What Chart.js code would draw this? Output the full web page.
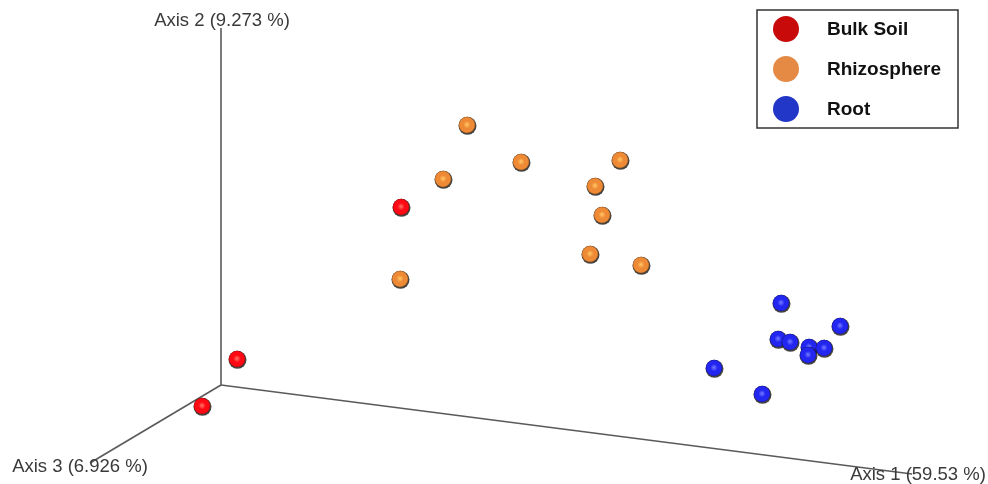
<!DOCTYPE html>
<html>
<head>
<meta charset="utf-8">
<script src="https://cdn.jsdelivr.net/npm/chart.js@4/dist/chart.umd.min.js"></script>
<style>
  html, body { margin: 0; padding: 0; background: #fff; }
  #wrap { width: 988px; height: 484px; position: relative; }
</style>
</head>
<body>
<div id="wrap"><canvas id="chart"></canvas></div>
<script>
// Projected positions of the samples (screen-space)
const bulkSoil = [
  { x: 401, y: 207 }, { x: 237, y: 359 }, { x: 202, y: 406 },
];
const rhizosphere = [
  { x: 467, y: 125 }, { x: 521, y: 162 }, { x: 620, y: 160 },
  { x: 443, y: 179 }, { x: 595, y: 186 }, { x: 602, y: 215 },
  { x: 590, y: 254 }, { x: 641, y: 265 }, { x: 400, y: 279 },
];
const root = [
  { x: 781, y: 303 }, { x: 840, y: 326 }, { x: 778, y: 339 },
  { x: 790, y: 342 }, { x: 809, y: 347 }, { x: 824, y: 348 },
  { x: 808, y: 355 }, { x: 714, y: 368 }, { x: 762, y: 394 },
];

// Axis lines: origin and the ends of the three axes
const axisOrigin = { x: 221, y: 385 };
const axisEnds = [
  { x: 912, y: 474 },
  { x: 221, y: 28 },
  { x: 90, y: 463 },
];
const axisLabels = ['Axis 1 (59.53 %)', 'Axis 2 (9.273 %)', 'Axis 3 (6.926 %)'];

const groupNames = ['Bulk Soil', 'Rhizosphere', 'Root'];
const groupColors = ['#ff0a14', '#ee8a35', '#2326f0'];
const highlightColors = ['#ff6a60', '#ffc060', '#6a70ff'];
const legendColors = ['#c80a0a', '#e58a45', '#2236c8'];

// Небольшая «сфера» для точек
function makeSphere(color, light) {
  const r = 8.3;
  const size = 22;
  const c = document.createElement('canvas');
  c.width = size;
  c.height = size;
  const g = c.getContext('2d');
  const cx = size / 2, cy = size / 2;
  // тёмный обод / тень
  g.beginPath();
  g.arc(cx + 0.5, cy + 0.8, r + 0.7, 0, Math.PI * 2);
  g.fillStyle = 'rgba(25,20,15,0.8)';
  g.fill();
  const grad = g.createRadialGradient(cx, cy - 0.5, 0.5, cx, cy, r);
  grad.addColorStop(0, light);
  grad.addColorStop(0.4, color);
  grad.addColorStop(0.85, color);
  grad.addColorStop(1, shade(color, 0.6));
  g.beginPath();
  g.arc(cx, cy, r, 0, Math.PI * 2);
  g.fillStyle = grad;
  g.fill();
  return c;
}

function shade(hex, k) {
  const n = parseInt(hex.slice(1), 16);
  const r = Math.round(((n >> 16) & 255) * k);
  const gg = Math.round(((n >> 8) & 255) * k);
  const b = Math.round((n & 255) * k);
  return `rgb(${r},${gg},${b})`;
}

// Axis labels drawn at the ends of the axis lines
const axisLabelPlugin = {
  id: 'axisLabels',
  afterDatasetsDraw(chart) {
    const { ctx, scales } = chart;
    const offsets = [6, -2, 9];
    ctx.save();
    ctx.font = '18.5px "Liberation Sans", Arial, sans-serif';
    ctx.fillStyle = '#3a3a3a';
    ctx.textAlign = 'center';
    ctx.textBaseline = 'alphabetic';
    axisEnds.forEach((p, i) => {
      const px = scales.x.getPixelForValue(p.x);
      const py = scales.y.getPixelForValue(p.y);
      const dx = i === 2 ? -10 : (i === 0 ? 6 : 1);
      ctx.fillText(axisLabels[i], px + dx, py + offsets[i]);
    });
    ctx.restore();
  },
};

// Legend box in the top right corner
const legendBoxPlugin = {
  id: 'legendBox',
  afterDraw(chart) {
    const { ctx } = chart;
    const left = 757, top = 10, w = 201, h = 118;
    ctx.save();
    ctx.fillStyle = '#fff';
    ctx.fillRect(left, top, w, h);
    ctx.strokeStyle = '#333';
    ctx.lineWidth = 1.5;
    ctx.strokeRect(left, top, w, h);
    ctx.font = 'bold 19px "Liberation Sans", Arial, sans-serif';
    ctx.textBaseline = 'middle';
    groupNames.forEach((name, i) => {
      const cy = top + 19 + i * 40;
      ctx.beginPath();
      ctx.arc(left + 29, cy, 13, 0, Math.PI * 2);
      ctx.fillStyle = legendColors[i];
      ctx.fill();
      ctx.fillStyle = '#111';
      ctx.fillText(name, left + 70, cy + 1);
    });
    ctx.restore();
  },
};

const axisDatasets = axisEnds.map((end, i) => ({
  type: 'line',
  label: axisLabels[i],
  data: [axisOrigin, end],
  borderColor: '#5a5a5a',
  borderWidth: 1.6,
  pointRadius: 0,
  fill: false,
  order: 10,
}));

const pointDatasets = [bulkSoil, rhizosphere, root].map((data, i) => ({
  type: 'scatter',
  label: groupNames[i],
  data,
  pointStyle: makeSphere(groupColors[i], highlightColors[i]),
  pointRadius: 9,
  order: 1,
}));

new Chart(document.getElementById('chart').getContext('2d'), {
  type: 'scatter',
  data: { datasets: [...axisDatasets, ...pointDatasets] },
  options: {
    animation: false,
    responsive: true,
    maintainAspectRatio: false,
    layout: { padding: 0, autoPadding: false },
    plugins: {
      legend: { display: false },
      tooltip: { enabled: false },
    },
    scales: {
      x: { type: 'linear', min: 0, max: 988, display: false },
      y: { type: 'linear', min: 0, max: 484, reverse: true, display: false },
    },
  },
  plugins: [axisLabelPlugin, legendBoxPlugin],
});
</script>
</body>
</html>
